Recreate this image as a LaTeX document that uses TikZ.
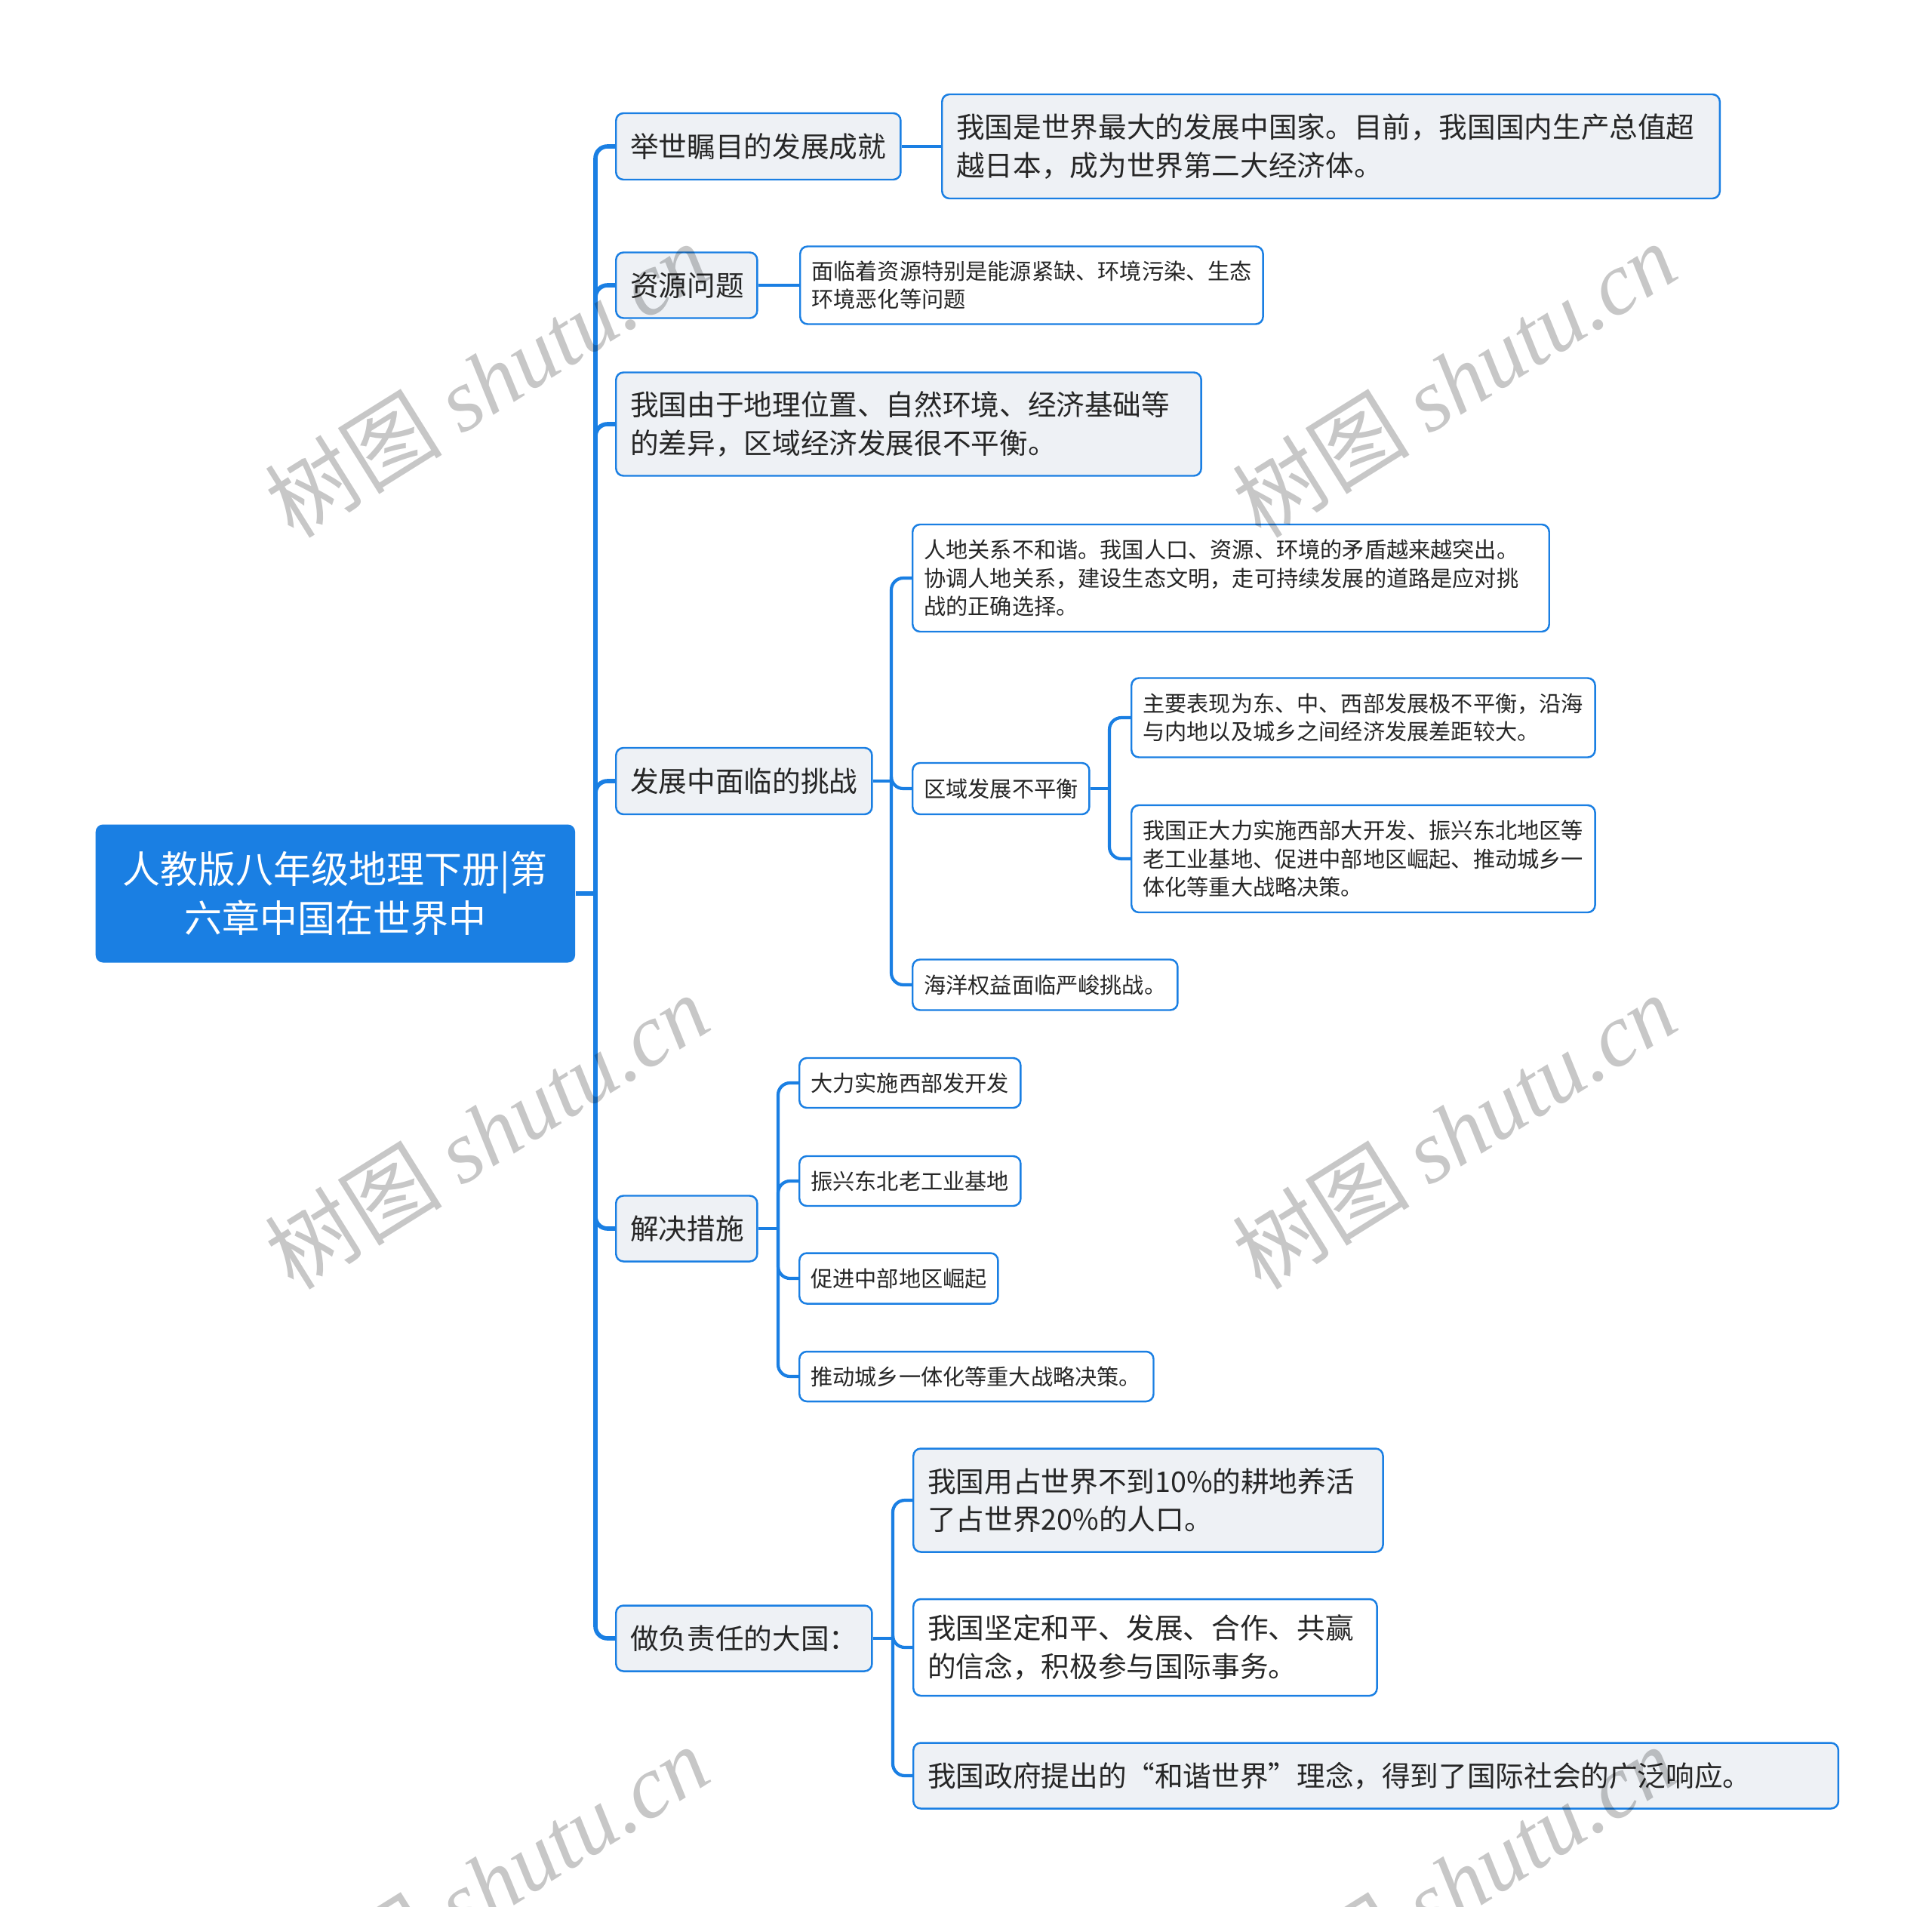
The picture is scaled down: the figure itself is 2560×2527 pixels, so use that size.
\documentclass[tikz,border=0pt]{standalone}
\usepackage{fontspec}
\setmainfont{Noto Sans CJK SC}
\newfontfamily\wmserif{Liberation Serif}
\definecolor{mblue}{HTML}{1A7FE3}
\definecolor{lfill}{HTML}{EEF1F5}
\definecolor{tcol}{HTML}{262626}
\tikzset{
 base/.style={draw=mblue, line width=0.7pt, rounded corners=2.8pt, anchor=west, align=left, text=tcol, inner ysep=0pt},
 gbox/.style={base, fill=lfill},
 wbox/.style={base, fill=white},
 big/.style={font=\fontsize{10.7}{14.4}\selectfont, inner xsep=0.19cm},
 small/.style={font=\fontsize{8.3}{10.7}\selectfont, inner xsep=0.15cm},
 mh/.style={minimum height=#1*0.01cm},
 rootbox/.style={fill=mblue, rounded corners=2.8pt, text=white, align=center, font=\fontsize{14.2}{18.6}\selectfont, anchor=west, inner sep=0pt},
 trunk/.style={draw=mblue, line width=1.6pt, rounded corners=4.5pt},
 branch/.style={draw=mblue, line width=1.2pt, rounded corners=4.5pt},
 wmark/.style={text=black, text opacity=0.22, rotate=32, font=\fontsize{33.5}{38}\selectfont, inner sep=0pt},
}
\begin{document}
\begin{tikzpicture}[x=0.01cm, y=-0.01cm]
\useasboundingbox (0,0) rectangle (2560,2527);
\fill[white] (0,0) rectangle (2560,2527);
% root
\node[rootbox, minimum width=6.35cm, mh=183] (root) at (126,1184) {人教版八年级地理下册|第\\六章中国在世界中};
% level 1
\node[gbox, big, text width=3.39cm, mh=88] (n1) at (815,194) {举世瞩目的发展成就};
\node[gbox, big, text width=1.49cm, mh=87] (n2) at (815,378) {资源问题};
\node[gbox, big, text width=7.37cm, mh=137] (n3) at (815,562) {我国由于地理位置、自然环境、经济基础等\\的差异，区域经济发展很不平衡。};
\node[gbox, big, text width=3.01cm, mh=88] (n4) at (815,1035) {发展中面临的挑战};
\node[gbox, big, text width=1.49cm, mh=87] (n5) at (815,1628) {解决措施};
\node[gbox, big, text width=3.01cm, mh=87] (n6) at (815,2171) {做负责任的大国：};
% level 2
\node[gbox, big, text width=9.92cm, mh=138] (m1) at (1247,194) {我国是世界最大的发展中国家。目前，我国国内生产总值超\\越日本，成为世界第二大经济体。};
\node[wbox, small, text width=5.83cm, mh=103] (m2) at (1059,378) {面临着资源特别是能源紧缺、环境污染、生态\\环境恶化等问题};
\node[wbox, small, text width=8.13cm, mh=142] (a) at (1208,766) {人地关系不和谐。我国人口、资源、环境的矛盾越来越突出。\\协调人地关系，建设生态文明，走可持续发展的道路是应对挑\\战的正确选择。};
\node[wbox, small, text width=2.04cm, mh=68] (b) at (1208,1045) {区域发展不平衡};
\node[wbox, small, text width=5.84cm, mh=105] (b1) at (1498,951) {主要表现为东、中、西部发展极不平衡，沿海\\与内地以及城乡之间经济发展差距较大。};
\node[wbox, small, text width=5.84cm, mh=142] (b2) at (1498,1138) {我国正大力实施西部大开发、振兴东北地区等\\老工业基地、促进中部地区崛起、推动城乡一\\体化等重大战略决策。};
\node[wbox, small, text width=3.21cm, mh=67] (c) at (1208,1305) {海洋权益面临严峻挑战。};
\node[wbox, small, text width=2.63cm, mh=66] (c1) at (1058,1435) {大力实施西部发开发};
\node[wbox, small, text width=2.63cm, mh=66] (c2) at (1058,1565) {振兴东北老工业基地};
\node[wbox, small, text width=2.33cm, mh=67] (c3) at (1058,1694) {促进中部地区崛起};
\node[wbox, small, text width=4.39cm, mh=66] (c4) at (1058,1824) {推动城乡一体化等重大战略决策。};
\node[gbox, big, text width=5.84cm, mh=137] (d1) at (1209,1988) {我国用占世界不到10\%的耕地养活\\了占世界20\%的人口。};
\node[wbox, big, text width=5.76cm, mh=128] (d2) at (1209,2183) {我国坚定和平、发展、合作、共赢\\的信念，积极参与国际事务。};
\node[gbox, big, text width=11.87cm, mh=87] (d3) at (1209,2353) {我国政府提出的“和谐世界”理念，得到了国际社会的广泛响应。};
% bus points
\coordinate (k0) at (789,1184);
\coordinate (k4) at (1181,1035);
\coordinate (kb) at (1470,1045);
\coordinate (k5) at (1031,1628);
\coordinate (k6) at (1183,2171);
% trunk
\draw[trunk] (root.east) -- (k0);
\foreach \n in {n1,n2,n3,n4,n5,n6} { \draw[trunk] (k0) |- (\n.west); }
% branches
\draw[branch] (n1.east) -- (m1.west);
\draw[branch] (n2.east) -- (m2.west);
\draw[branch] (n4.east) -- (k4);
\foreach \n in {a,b,c} { \draw[branch] (k4) |- (\n.west); }
\draw[branch] (b.east) -- (kb);
\foreach \n in {b1,b2} { \draw[branch] (kb) |- (\n.west); }
\draw[branch] (n5.east) -- (k5);
\foreach \n in {c1,c2,c3,c4} { \draw[branch] (k5) |- (\n.west); }
\draw[branch] (n6.east) -- (k6);
\foreach \n in {d1,d2,d3} { \draw[branch] (k6) |- (\n.west); }
% watermarks
\begin{scope}
\clip (0,0) rectangle (2560,2527);
\foreach \wx/\wy [count=\i] in {645/503, 1927/503, 645/1499, 1927/1499, 645/2495, 1927/2495} {
  \node[wmark] (wm\i) at (\wx,\wy) {树图 {\wmserif\itshape shutu.cn}};
}
\end{scope}
\end{tikzpicture}
\end{document}
